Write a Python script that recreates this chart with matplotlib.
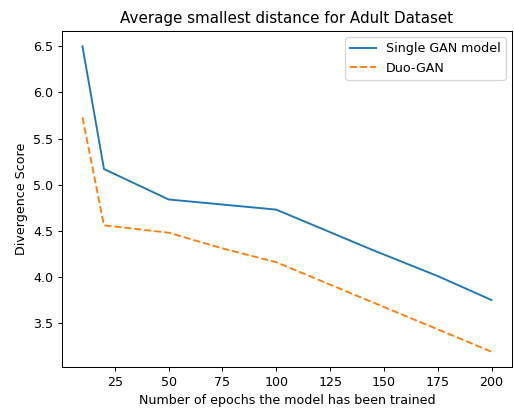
import matplotlib
matplotlib.use("Agg")
import matplotlib.pyplot as plt

# epochs and scores
single_epochs = [10, 20, 50, 100, 145, 175, 200]
single_scores = [6.50, 5.17, 4.84, 4.73, 4.29, 4.01, 3.75]

duo_epochs = [10, 20, 50, 75, 100, 200]
duo_scores = [5.73, 4.56, 4.48, 4.31, 4.16, 3.19]

DPI = 91
fig = plt.figure(figsize=(514 / DPI, 408 / DPI), dpi=DPI)
ax = fig.add_axes([62 / 514, 1 - 367 / 408, 450 / 514, 336 / 408])

ax.plot(single_epochs, single_scores, label="Single GAN model")
ax.plot(duo_epochs, duo_scores, linestyle="--", label="Duo-GAN")

ax.set_xlabel("Number of epochs the model has been trained")
ax.set_ylabel("Divergence Score")
ax.set_title("Average smallest distance for Adult Dataset")
ax.legend()

fig.savefig("out.png", dpi=DPI)
